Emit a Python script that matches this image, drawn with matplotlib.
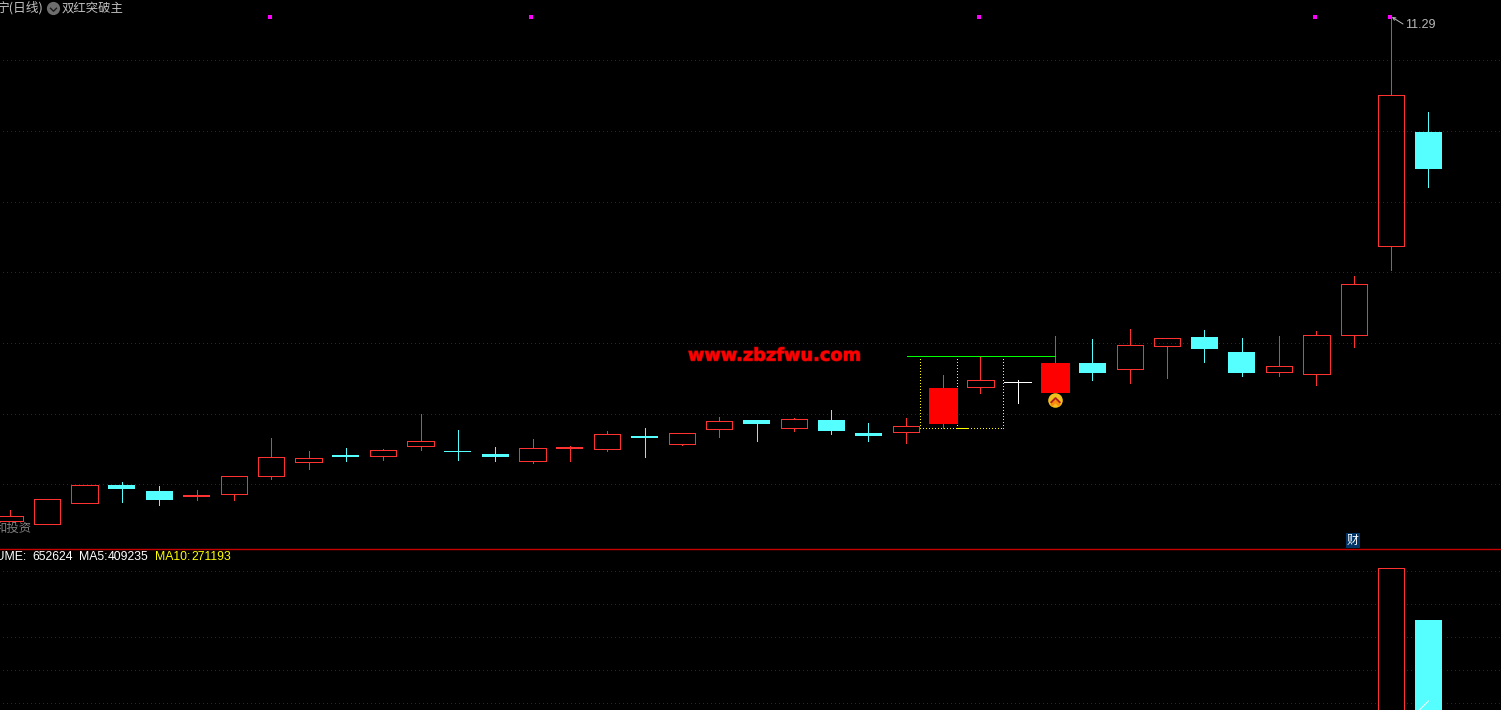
import matplotlib
matplotlib.use('Agg')
import matplotlib.pyplot as plt
import matplotlib.patheffects as pe
from matplotlib.lines import Line2D
from matplotlib.path import Path

W, H = 1501, 710

# Velas (preco)
open_ = [9.275, 9.263, 9.347, 9.418, 9.394, 9.370, 9.383, 9.455, 9.511, 9.538,
         9.535, 9.575, 9.554, 9.542, 9.514, 9.562, 9.563, 9.614, 9.583, 9.643,
         9.678, 9.647, 9.678, 9.626, 9.631, 9.662, 9.811, 9.829, 9.786, 9.906,
         9.883, 9.975, 10.010, 9.950, 9.871, 9.863, 10.019, 10.374, 10.830]
close = [9.293, 9.361, 9.417, 9.402, 9.358, 9.378, 9.453, 9.529, 9.525, 9.530,
         9.557, 9.593, 9.550, 9.530, 9.565, 9.570, 9.621, 9.606, 9.625, 9.673,
         9.662, 9.681, 9.634, 9.614, 9.653, 9.806, 9.837, 9.829, 9.906, 9.866,
         9.977, 10.005, 9.962, 9.866, 9.893, 10.017, 10.221, 10.978, 10.682]
high = [9.318, 9.361, 9.417, 9.430, 9.414, 9.398, 9.453, 9.606, 9.554, 9.566,
        9.562, 9.702, 9.638, 9.570, 9.602, 9.574, 9.634, 9.646, 9.625, 9.690,
        9.678, 9.686, 9.718, 9.666, 9.686, 9.858, 9.934, 9.838, 10.014, 10.002,
        10.042, 10.005, 10.038, 10.006, 10.014, 10.034, 10.254, 11.290, 10.910]
low = [9.272, 9.263, 9.347, 9.350, 9.338, 9.358, 9.358, 9.442, 9.482, 9.514,
       9.518, 9.558, 9.518, 9.514, 9.506, 9.514, 9.554, 9.530, 9.578, 9.610,
       9.594, 9.634, 9.622, 9.594, 9.586, 9.646, 9.786, 9.746, 9.786, 9.838,
       9.826, 9.846, 9.910, 9.854, 9.854, 9.818, 9.970, 10.278, 10.610]
solid_bars = [25, 28]
flat_bars = [5, 15]
signal_bars = [7, 14, 26, 35, 37]

price_grid = [11.117, 10.834, 10.551, 10.268, 9.986, 9.703, 9.421]
breakout_price = 9.933
box_bottom = 9.645
max_price = 11.29

# Volume: so as duas ultimas barras aparecem
vol_index = [37, 38]
volume = [911000, 652624]
vol_grid = [896000, 731000, 566000, 401000, 236000]
ma_index = [37, 38]
ma_values = [62500, 247500]

CYAN = '#55ffff'
RED = '#ff3232'
GRID = '#880000'
PX = 0.72  # 1 pixel em pontos
STEP = 37.33
X0 = 9.9


def fx(x):
    return x / W


def fy(y):
    return 1 - y / H


fig = plt.figure(figsize=(W / 100, H / 100), dpi=100, facecolor='black')
ax = fig.add_axes([0, fy(548), 1, 548 / H])
ax_vol = fig.add_axes([0, 0, 1, (H - 548.5) / H])

xlim = (-X0 / STEP, (W - X0) / STEP)
for a in (ax, ax_vol):
    a.set_facecolor('black')
    a.set_xlim(*xlim)
    a.set_xticks([])
    a.set_yticks([])
    for s in a.spines.values():
        s.set_visible(False)
ax.set_ylim(11.358 - 548 * 0.004, 11.358)
ax_vol.set_ylim(202500, 1010000)
ax_vol.spines['top'].set_visible(True)
ax_vol.spines['top'].set_color('#c80000')
ax_vol.spines['top'].set_linewidth(1.0)

# Grades pontilhadas
grid_x = (xlim[0] + 3 / STEP, xlim[1])
for g in price_grid:
    ax.plot(grid_x, [g, g], color=GRID, lw=PX, ls=(0, (1, 3)), aa=False, zorder=1)
for g in vol_grid:
    ax_vol.plot(grid_x, [g, g], color=GRID, lw=PX, ls=(0, (1, 3)), aa=False, zorder=1)

# Velas
for i in range(len(open_)):
    o, c, h, l = open_[i], close[i], high[i], low[i]
    top, bottom = max(o, c), min(o, c)
    if c == o:
        color = 'white'
    elif c > o:
        color = RED
    else:
        color = CYAN
    ax.vlines(i, top, h, color=color, lw=PX, antialiased=False, zorder=3)
    ax.vlines(i, l, bottom, color=color, lw=PX, antialiased=False, zorder=3)
    if c == o:
        ax.hlines(c, i - 0.36, i + 0.36, color=color, lw=PX, antialiased=False, zorder=3)
    elif i in solid_bars:
        ax.bar(i, top - bottom, bottom=bottom, width=0.77, color='#ff0000', antialiased=False, zorder=3)
    elif i in flat_bars:
        ax.bar(i, top - bottom, bottom=bottom, width=0.72, color=RED, antialiased=False, zorder=3)
    elif c > o:
        ax.bar(i, top - bottom, bottom=bottom, width=0.70, facecolor='none', edgecolor=RED,
               linewidth=PX, antialiased=False, zorder=3)
    else:
        ax.bar(i, top - bottom, bottom=bottom, width=0.72, color=CYAN, antialiased=False, zorder=3)

# Sinal: linha verde e caixa amarela
dots = (0, (0.6, 2.2))
ax.plot([24.02, 28], [breakout_price, breakout_price], color='#00ff00', lw=PX, aa=False, zorder=4)
for bx in (24.38, 25.37, 26.60):
    ax.plot([bx, bx], [box_bottom, breakout_price], color='#ffff00', lw=PX, ls=dots, aa=False, zorder=2)
ax.plot([24.38, 26.60], [box_bottom, box_bottom], color='#ffff00', lw=PX, ls=dots, aa=False, zorder=4)
ax.plot([25.37, 25.66], [box_bottom, box_bottom], color='#ffff00', lw=PX, aa=False, zorder=4)

# Pontos magenta no topo
ax.plot([i - 0.03 for i in signal_bars], [max_price] * len(signal_bars), ls='none', marker='s',
        ms=2.2, mew=0, color='#ff00ff', zorder=5)

# Icone de compra
chevron = Path([(-1, -0.5), (0, 0.5), (1, -0.5)], [Path.MOVETO, Path.LINETO, Path.LINETO])
ax.plot(28, 9.758, marker='o', ms=10.5, mew=0, color='#f2c01c', zorder=5)
ax.plot(28, 9.746, marker=chevron, ms=6, mew=2, mfc='none', mec='#ff8a10', ls='none', zorder=6)
ax.plot(28, 9.760, marker=chevron, ms=7, mew=1.4, mfc='none', mec='#b3201a', ls='none', zorder=6)

# Maximo
ax.annotate('', xy=(37.02, max_price), xycoords='data', xytext=(fx(1403), fy(24)),
            textcoords='figure fraction', zorder=6,
            arrowprops=dict(arrowstyle='->', color='#b8b8b8', lw=PX, mutation_scale=5,
                            shrinkA=0, shrinkB=0))
fig.text(fx(1405), fy(25), '11.29', color='#b8b8b8', fontsize=9, va='center', ha='left',
         family='Liberation Sans')

# Marca d'agua
fig.text(fx(688), fy(355.7), 'www.zbzfwu.com', color='#ff0000', fontsize=12.8, fontweight='bold',
         family='DejaVu Sans', va='center', ha='left',
         path_effects=[pe.withStroke(linewidth=0.8, foreground='#a80000')])

# Volume
ax_vol.bar(vol_index, volume, width=0.83, color='black', zorder=2)
ax_vol.bar(vol_index[0], volume[0], width=0.70, facecolor='black', edgecolor=RED, linewidth=PX,
           antialiased=False, zorder=3)
ax_vol.bar(vol_index[1], volume[1], width=0.72, color=CYAN, antialiased=False, zorder=3)
ax_vol.plot(ma_index, ma_values, color='white', lw=PX, zorder=4)

# Textos
cjk = ['Noto Sans CJK SC', 'DejaVu Sans']
fig.text(fx(-4), fy(8), '宁(日线)', color='#c0c0c0', fontsize=9.2, family=cjk, va='center', ha='left')
fig.text(fx(62), fy(8), '双红突破主', color='#c0c0c0', fontsize=8.9, family=cjk, va='center', ha='left')
fig.add_artist(Line2D([fx(53)], [fy(8)], marker='o', ms=9.5, mew=0, color='#6e6e6e'))
fig.add_artist(Line2D([fx(53)], [fy(8.5)], marker=Path([(-1, 0.5), (0, -0.5), (1, 0.5)]), ms=5, mew=1,
                      mfc='none', mec='#1c1c1c', ls='none'))
fig.text(fx(-5), fy(528), '和投资', color='#808080', fontsize=8.9, family=cjk, va='center', ha='left')
fig.text(fx(1353), fy(540.5), '财', color='white', fontsize=8.6, family=cjk, va='center', ha='center',
         bbox=dict(boxstyle='square,pad=0.05', facecolor='#003366', edgecolor='none'))

legend = [(27, 'right', 'VOLUME:', 'white'), (32, 'left', '652624', 'white'),
          (79, 'left', 'MA5:', 'white'), (108, 'left', '409235', 'white'),
          (155, 'left', 'MA10:', '#ffff00'), (191, 'left', '271193', '#ffff00')]
for x, align, label, color in legend:
    fig.text(fx(x), fy(557), label, color=color, fontsize=8.8, family='Liberation Sans',
             va='center', ha=align)

fig.savefig('out.png', dpi=100, facecolor='black')
